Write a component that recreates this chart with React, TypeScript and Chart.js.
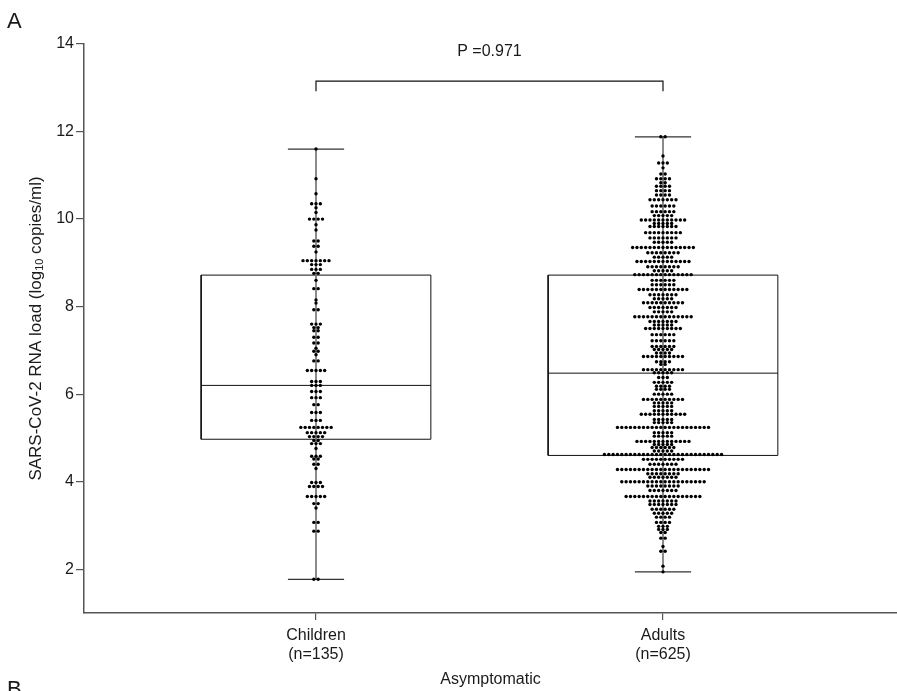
import React, { useEffect, useRef } from "react";
import { Chart, registerables } from "chart.js";

Chart.register(...registerables);

// ---------------- data ----------------
const categories = ["Children", "Adults"];
const sampleSizes = [135, 625];
const xAxisTitle = "Asymptomatic";
const yTitleBefore = "SARS-CoV-2 RNA load (log";
const yTitleSub = "10";
const yTitleAfter = " copies/ml)";
const yTicks = [2, 4, 6, 8, 10, 12, 14];
const pValueText = "P =0.971";
const panelLabels = ["A", "B"];

// box statistics per category
const boxMin = [1.77, 1.94];
const boxQ1 = [4.97, 4.6];
const boxMedian = [6.2, 6.48];
const boxQ3 = [8.72, 8.72];
const boxMax = [11.6, 11.88];

// individual values, grouped by level (value) and number of points at that level
const childrenLevels = [
  11.6, 10.92, 10.58, 10.35, 10.26, 10.15, 10.0, 9.87, 9.75, 9.5, 9.38, 9.25,
  9.05, 8.96, 8.85, 8.76, 8.6, 8.41, 8.15, 8.08, 7.93,
  7.6, 7.52, 7.45, 7.3, 7.17, 7.05, 6.98,
  6.9, 6.76, 6.54, 6.29, 6.2, 6.06, 5.92, 5.76, 5.58, 5.4,
  5.24, 5.12, 5.03, 4.94, 4.87, 4.76, 4.58, 4.52, 4.4, 4.3,
  3.98, 3.89, 3.66, 3.5, 3.4, 3.07, 2.87, 1.77,
];
const childrenCounts = [
  1, 1, 1, 3, 1, 1, 4, 1, 1, 2, 2, 1,
  7, 3, 3, 2, 1, 2, 1, 1, 2,
  3, 2, 2, 2, 2, 1, 2,
  1, 2, 5, 3, 3, 3, 3, 2, 3, 3,
  8, 5, 4, 2, 3, 1, 3, 2, 2, 1,
  3, 4, 5, 2, 1, 2, 2, 2,
];

const adultLevels = [
  11.88, 11.44, 11.28, 11.17, 11.03, 10.92, 10.83, 10.75, 10.65, 10.55,
  10.44, 10.3, 10.17, 10.08, 9.98, 9.9, 9.83, 9.69, 9.57, 9.47,
  9.35, 9.23, 9.13, 9.03, 8.91, 8.82,
  8.73, 8.6, 8.5, 8.39, 8.27, 8.18, 8.09, 7.98, 7.88,
  7.77, 7.66, 7.58, 7.5, 7.36, 7.22, 7.09, 7.02, 6.94,
  6.86, 6.74, 6.68, 6.56, 6.49,
  6.38, 6.27, 6.18, 6.11, 6.0, 5.88, 5.8, 5.72, 5.62, 5.54, 5.42, 5.35,
  5.24, 5.12, 5.04, 4.92, 4.85, 4.78, 4.7, 4.62,
  4.51, 4.4, 4.28, 4.18, 4.1, 4.0, 3.9, 3.8, 3.66,
  3.56, 3.48, 3.37, 3.28, 3.19, 3.07, 2.98, 2.91, 2.84, 2.71, 2.52, 2.41, 2.07, 1.94,
];
const adultCounts = [
  2, 1, 3, 1, 2, 4, 2, 4, 4, 4,
  7, 6, 6, 5, 11, 5, 7, 9, 7, 5,
  15, 8, 5, 13, 8, 5,
  14, 6, 6, 12, 7, 5, 10, 7, 5,
  14, 7, 5, 9, 6, 6, 6, 5, 4,
  10, 4, 2, 10, 5,
  3, 5, 4, 4, 5, 10, 5, 5, 5, 11, 5, 5,
  22, 5, 5, 13, 5, 6, 5, 28,
  10, 7, 22, 8, 7, 20, 8, 7, 18,
  7, 7, 6, 5, 4, 4, 3, 3, 2, 2, 1, 2, 1, 1,
];

// ---------------- layout / style constants ----------------
const FONT = "'Liberation Sans', Arial, Helvetica, sans-serif";
const TEXT = "#1a1a1a";
const AXIS = "#555555";
const X_MIN = -0.6686;
const X_MAX = 1.6744;
const Y_MIN = 1;
const Y_MAX = 14;
const BOX_HALF = 0.331;
const CAP_HALF = 0.081;
const DOT_STEP = 0.0125;
const BRACKET_Y = 13.15;
const BRACKET_DROP = 12.92;
const P_LABEL_Y = 13.82;

export default function App() {
  const ref = useRef<HTMLCanvasElement | null>(null);

  useEffect(() => {
    const canvas = ref.current;
    if (!canvas) return;

    const groups = [
      { levels: childrenLevels, counts: childrenCounts },
      { levels: adultLevels, counts: adultCounts },
    ];
    const dots: { x: number; y: number }[] = [];
    groups.forEach((g, gi) => {
      g.levels.forEach((v, i) => {
        const n = g.counts[i];
        for (let k = 0; k < n; k++) {
          dots.push({ x: gi + (k - (n - 1) / 2) * DOT_STEP, y: v });
        }
      });
    });

    const stems: any[] = [];
    const caps: any[] = [];
    const boxes: any[] = [];
    categories.forEach((_, i) => {
      stems.push({ x: i, y: boxMin[i] }, { x: i, y: boxMax[i] }, { x: i, y: null });
      caps.push(
        { x: i - CAP_HALF, y: boxMin[i] }, { x: i + CAP_HALF, y: boxMin[i] }, { x: i, y: null },
        { x: i - CAP_HALF, y: boxMax[i] }, { x: i + CAP_HALF, y: boxMax[i] }, { x: i, y: null }
      );
      boxes.push(
        { x: i - BOX_HALF, y: boxQ1[i] }, { x: i + BOX_HALF, y: boxQ1[i] },
        { x: i + BOX_HALF, y: boxQ3[i] }, { x: i - BOX_HALF, y: boxQ3[i] },
        { x: i - BOX_HALF, y: boxQ1[i] }, { x: i, y: null },
        { x: i - BOX_HALF, y: boxMedian[i] }, { x: i + BOX_HALF, y: boxMedian[i] }, { x: i, y: null }
      );
    });
    const bracket = [
      { x: 0, y: BRACKET_DROP }, { x: 0, y: BRACKET_Y },
      { x: 1, y: BRACKET_Y }, { x: 1, y: BRACKET_DROP },
    ];

    const lineDs = (data: any[], color: string, width: number) => ({
      data,
      showLine: true,
      borderColor: color,
      borderWidth: width,
      pointRadius: 0,
      spanGaps: false,
      tension: 0,
      fill: false,
    });

    const textPlugin = {
      id: "extraText",
      afterDraw(chart: any) {
        const ctx = chart.ctx;
        const xs = chart.scales.x;
        const ys = chart.scales.y;
        ctx.save();
        ctx.fillStyle = TEXT;
        // panel letters
        ctx.font = `22px ${FONT}`;
        ctx.textAlign = "left";
        ctx.textBaseline = "top";
        ctx.fillText(panelLabels[0], 7, 11);
        ctx.fillText(panelLabels[1], 7, 679);
        // p value
        ctx.font = `16px ${FONT}`;
        ctx.textAlign = "center";
        ctx.textBaseline = "middle";
        ctx.fillText(pValueText, xs.getPixelForValue(0.5), ys.getPixelForValue(P_LABEL_Y));
        // y title with subscript
        const mainFont = `17px ${FONT}`;
        const subFont = `11px ${FONT}`;
        ctx.font = mainFont;
        const w1 = ctx.measureText(yTitleBefore).width;
        const w3 = ctx.measureText(yTitleAfter).width;
        ctx.font = subFont;
        const w2 = ctx.measureText(yTitleSub).width;
        const total = w1 + w2 + w3;
        const cy = (chart.chartArea.top + chart.chartArea.bottom) / 2;
        ctx.translate(36, cy);
        ctx.rotate(-Math.PI / 2);
        ctx.textAlign = "left";
        ctx.textBaseline = "middle";
        let x0 = -total / 2;
        ctx.font = mainFont;
        ctx.fillText(yTitleBefore, x0, 0);
        x0 += w1;
        ctx.font = subFont;
        ctx.fillText(yTitleSub, x0, 4);
        x0 += w2;
        ctx.font = mainFont;
        ctx.fillText(yTitleAfter, x0, 0);
        ctx.restore();
      },
    };

    const chart = new Chart(canvas, {
      type: "scatter",
      data: {
        datasets: [
          {
            data: dots,
            showLine: false,
            pointRadius: 1.7,
            pointBackgroundColor: "#000000",
            pointBorderWidth: 0,
            pointBorderColor: "#000000",
          } as any,
          lineDs(caps, "#333333", 1.2),
          lineDs(stems, "#6e6e6e", 1.6),
          lineDs(boxes, "#111111", 1),
          lineDs(bracket, "#111111", 1.2),
        ],
      },
      options: {
        responsive: false,
        animation: false,
        devicePixelRatio: 1,
        events: [],
        layout: { autoPadding: false, padding: { left: 0, right: 0, top: 44, bottom: 0 } },
        plugins: {
          legend: { display: false },
          tooltip: { enabled: false },
          title: { display: false },
        },
        scales: {
          x: {
            type: "linear",
            min: X_MIN,
            max: X_MAX,
            afterBuildTicks: (s: any) => {
              s.ticks = categories.map((_, i) => ({ value: i }));
            },
            afterFit: (s: any) => {
              s.height = 78;
            },
            grid: {
              display: true,
              drawOnChartArea: false,
              drawTicks: true,
              tickLength: 7,
              tickColor: AXIS,
              lineWidth: 1.2,
            },
            border: { display: true, color: AXIS, width: 1.5 },
            ticks: {
              autoSkip: false,
              maxRotation: 0,
              padding: 6,
              color: TEXT,
              font: { family: FONT, size: 16 },
              callback: (_v: any, idx: number) => [categories[idx], `(n=${sampleSizes[idx]})`],
            },
            title: {
              display: true,
              text: xAxisTitle,
              color: TEXT,
              font: { family: FONT, size: 16 },
              padding: { top: 0, bottom: 2 },
            },
          },
          y: {
            type: "linear",
            min: Y_MIN,
            max: Y_MAX,
            afterBuildTicks: (s: any) => {
              s.ticks = yTicks.map((v) => ({ value: v }));
            },
            afterFit: (s: any) => {
              s.width = 84;
            },
            grid: {
              display: true,
              drawOnChartArea: false,
              drawTicks: true,
              tickLength: 8,
              tickColor: AXIS,
              lineWidth: 1.2,
            },
            border: { display: true, color: AXIS, width: 1.5 },
            ticks: {
              padding: 2,
              color: TEXT,
              font: { family: FONT, size: 16 },
              callback: (v: any) => String(v),
            },
          },
        },
      },
      plugins: [textPlugin],
    } as any);

    return () => chart.destroy();
  }, []);

  return (
    <div style={{ position: "absolute", left: 0, top: 0, width: 897, height: 691, background: "#fff" }}>
      <canvas ref={ref} width={897} height={691} style={{ display: "block", width: 897, height: 691 }} />
    </div>
  );
}
